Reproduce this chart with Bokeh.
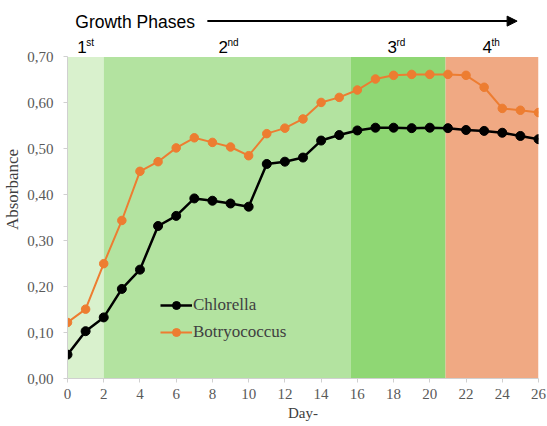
from bokeh.plotting import figure
from bokeh.models import (FixedTicker, CustomJSTickFormatter, Legend, LegendItem,
                          Arrow, NormalHead, Range1d)
from bokeh.core.properties import value
from bokeh.embed import file_html
from bokeh.resources import INLINE

days = list(range(0, 27))
chlorella = [0.052, 0.103, 0.133, 0.195, 0.237, 0.332, 0.354, 0.392, 0.387, 0.381,
             0.374, 0.467, 0.472, 0.481, 0.518, 0.530, 0.540, 0.546, 0.546, 0.545,
             0.546, 0.545, 0.541, 0.539, 0.535, 0.528, 0.521]
botryococcus = [0.122, 0.151, 0.250, 0.344, 0.451, 0.472, 0.502, 0.524, 0.514, 0.504,
                0.485, 0.533, 0.545, 0.565, 0.601, 0.612, 0.628, 0.652, 0.660, 0.662,
                0.662, 0.662, 0.660, 0.634, 0.588, 0.584, 0.579]
phase_bounds = [0, 2, 15.62, 20.87, 26]
phase_numbers = ["1", "2", "3", "4"]
phase_suffixes = ["st", "nd", "rd", "th"]
phase_colors = ["#d9f1cd", "#b3e3a0", "#8fd774", "#f0a983"]
y_ticks = [0.0, 0.1, 0.2, 0.3, 0.4, 0.5, 0.6, 0.7]
x_ticks = list(range(0, 27, 2))

Y_TOP = 0.70
p = figure(width=547, height=426, output_backend="svg", toolbar_location=None,
           x_range=Range1d(0, 26), y_range=Range1d(0, 0.8229),
           min_border_left=67, min_border_right=9, min_border_top=0, min_border_bottom=48)
p.outline_line_color = None
p.xgrid.grid_line_color = None
p.ygrid.grid_line_color = None
p.background_fill_color = "white"

# phase bands
p.quad(left=phase_bounds[:-1], right=phase_bounds[1:], bottom=0, top=Y_TOP,
       fill_color=phase_colors, line_color=None)

# series
l1 = p.line(days, chlorella, line_color="black", line_width=2.5)
s1 = p.scatter(days, chlorella, size=9, fill_color="black", line_color="black")
l2 = p.line(days, botryococcus, line_color="#ed7d31", line_width=2)
s2 = p.scatter(days, botryococcus, size=8.5, fill_color="#ed7d31", line_color="#ed7d31")

legend = Legend(items=[LegendItem(label="Chlorella", renderers=[l1, s1]),
                       LegendItem(label="Botryococcus", renderers=[l2, s2])],
                location=(93, 36), background_fill_alpha=0, border_line_color=None,
                padding=0, margin=0, spacing=7, glyph_width=32, glyph_height=20,
                label_standoff=1, label_text_font="Liberation Serif",
                label_text_font_size="17px", label_text_color="#404040")
p.add_layout(legend)

# top annotations
p.text(x=[0.43], y=[0.777], text=["Growth Phases"], text_font=value("Liberation Sans"),
       text_font_size="17.5px", text_baseline="middle", text_align="left", text_color="black")
p.add_layout(Arrow(x_start=7.72, y_start=0.778, x_end=24.82, y_end=0.778,
                   line_width=2, line_color="black",
                   end=NormalHead(size=10, fill_color="black", line_color="black")))
num_x = [0.54, 8.33, 17.66, 22.91]
p.text(x=num_x, y=[0.7215] * 4, text=phase_numbers, text_font=value("Liberation Sans"),
       text_font_size="17px", text_baseline="alphabetic", text_align="left", text_color="black")
suf_x = [x + 0.5 for x in num_x]
p.text(x=suf_x, y=[0.7315] * 4, text=phase_suffixes, text_font=value("Liberation Sans"),
       text_font_size="10px", text_baseline="alphabetic", text_align="left", text_color="black")

# axes
p.xaxis.ticker = FixedTicker(ticks=x_ticks)
p.yaxis.ticker = FixedTicker(ticks=y_ticks)
p.yaxis.bounds = (0, Y_TOP)
p.yaxis.formatter = CustomJSTickFormatter(code="return tick.toFixed(2).replace('.', ',');")
for ax in (p.xaxis[0], p.yaxis[0]):
    ax.axis_line_color = "#d0d0d0"
    ax.major_tick_line_color = "#d0d0d0"
    ax.minor_tick_line_color = None
    ax.major_tick_out = 4
    ax.major_tick_in = 0
    ax.major_label_text_font = "Liberation Serif"
    ax.major_label_text_font_size = "15px"
    ax.major_label_text_color = "#595959"
    ax.axis_label_text_font = "Liberation Serif"
    ax.axis_label_text_font_style = "normal"
    ax.axis_label_text_color = "#404040"
p.xaxis.axis_label = "Day-"
p.xaxis.axis_label_text_font_size = "15px"
p.xaxis.major_label_standoff = 6
p.xaxis.axis_label_standoff = 3
p.yaxis.axis_label = "Absorbance"
p.yaxis.axis_label_text_font_size = "17px"
p.yaxis.major_label_standoff = 10
p.yaxis.axis_label_standoff = 2

open("out.html", "w").write(file_html(p, INLINE))
